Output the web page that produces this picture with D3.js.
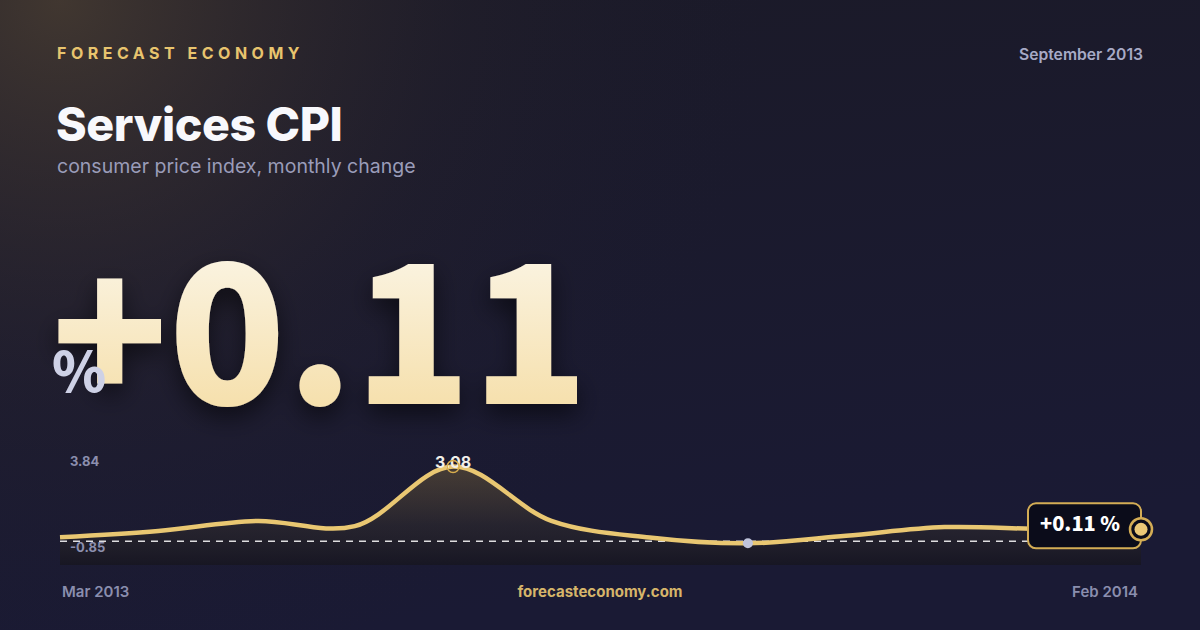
<!DOCTYPE html>
<html><head><meta charset="utf-8">
<script src="https://cdn.jsdelivr.net/npm/d3@7"></script>
<style>html,body{margin:0;padding:0;background:#161629;overflow:hidden}svg{display:block}</style>
</head><body><svg id="c" width="1200" height="630"></svg>
<script>
// ---- data ----
const months = ["Mar 2013","Apr 2013","May 2013","Jun 2013","Jul 2013","Aug 2013","Sep 2013","Oct 2013","Nov 2013","Dec 2013","Jan 2014","Feb 2014"];
const values = [0.16, 0.42, 0.83, 0.62, 3.08, 0.84, 0.15, -0.09, 0.22, 0.58, 0.50, 0.49];
const yDomain = [-0.85, 3.84];
const yTickLabels = ["3.84", "-0.85"];
const brand = "FORECAST ECONOMY";
const title = "Services CPI";
const subtitle = "consumer price index, monthly change";
const period = "September 2013";
const headline = "+0.11";
const unit = "%";
const site = "forecasteconomy.com";

// ---- layout ----
const W = 1200, H = 630;
const HEAVY = "'Noto Sans CJK SC', 'Noto Sans', sans-serif";
const svg = d3.select("#c");
const defs = svg.append("defs");

const bg = defs.append("linearGradient").attr("id","bg").attr("x1",0).attr("y1",0).attr("x2",0.3).attr("y2",1);
bg.append("stop").attr("offset","0%").attr("stop-color","#1b1a27");
bg.append("stop").attr("offset","100%").attr("stop-color","#1a1a34");
const glow = defs.append("radialGradient").attr("id","glow").attr("cx",0.05).attr("cy",0).attr("r",0.6)
  .attr("gradientTransform","scale(1,1.9)");
glow.append("stop").attr("offset","0%").attr("stop-color","#5a4a36").attr("stop-opacity",0.6);
glow.append("stop").attr("offset","55%").attr("stop-color","#3a3030").attr("stop-opacity",0.15);
glow.append("stop").attr("offset","100%").attr("stop-color","#1a1a30").attr("stop-opacity",0);

svg.append("rect").attr("width",W).attr("height",H).attr("fill","url(#bg)");
svg.append("rect").attr("width",W).attr("height",H).attr("fill","url(#glow)");

// header
svg.append("text").attr("x",57).attr("y",59).text(brand)
  .attr("font-family","Inter").attr("font-weight",700).attr("font-size",16)
  .attr("letter-spacing",4.5).attr("fill","#e8c46e");
svg.append("text").attr("x",1143).attr("y",60).attr("text-anchor","end").text(period)
  .attr("font-family","Inter").attr("font-weight",600).attr("font-size",15.7).attr("fill","#a7aac6");
svg.append("text").attr("x",56).attr("y",141).text(title)
  .attr("font-family","Inter").attr("font-weight",800).attr("font-size",46.5)
  .attr("letter-spacing",-0.4).attr("fill","#f8f8fc");
svg.append("text").attr("x",57).attr("y",173).text(subtitle)
  .attr("font-family","Inter").attr("font-weight",400).attr("font-size",19.5).attr("fill","#9a9cb9");

// big number
const ng = defs.append("linearGradient").attr("id","ng").attr("x1",0).attr("y1",0).attr("x2",0).attr("y2",1);
ng.append("stop").attr("offset","0%").attr("stop-color","#fdfdfb");
ng.append("stop").attr("offset","100%").attr("stop-color","#f4d99a");
const sh = defs.append("filter").attr("id","sh").attr("x","-10%").attr("y","-20%").attr("width","120%").attr("height","150%");
sh.append("feDropShadow").attr("dx",0).attr("dy",10).attr("stdDeviation",12).attr("flood-color","#000").attr("flood-opacity",0.55);

svg.append("text").attr("x",51).attr("y",404).text(headline)
  .attr("font-family",HEAVY).attr("font-weight",900).attr("font-size",193)
  .attr("fill","url(#ng)").attr("filter","url(#sh)");
svg.append("text").attr("x",52).attr("y",392).text(unit)
  .attr("font-family",HEAVY).attr("font-weight",900).attr("font-size",55).attr("fill","#ced1e6");

// chart
const x = d3.scalePoint().domain(months).range([60, 1141]);
const y = d3.scaleLinear().domain(yDomain).range([561.7, 448.2]);
const plotBottom = 565;
const data = months.map((m,i)=>({m, v: values[i]}));

const ag = defs.append("linearGradient").attr("id","ag").attr("gradientUnits","userSpaceOnUse")
  .attr("x1",0).attr("y1",y(d3.max(values))).attr("x2",0).attr("y2",plotBottom);
ag.append("stop").attr("offset","0%").attr("stop-color","#6a5838").attr("stop-opacity",0.55);
ag.append("stop").attr("offset","60%").attr("stop-color","#2e2a2c").attr("stop-opacity",0.6);
ag.append("stop").attr("offset","100%").attr("stop-color","#16151f").attr("stop-opacity",0.8);

const curve = d3.curveCatmullRom;
svg.append("path").datum(data)
  .attr("d", d3.area().x(d=>x(d.m)).y0(plotBottom).y1(d=>y(d.v)).curve(curve))
  .attr("fill","url(#ag)");

svg.append("line").attr("x1",x(months[0])).attr("x2",x(months[months.length-1]))
  .attr("y1",y(0)).attr("y2",y(0))
  .attr("stroke","#ffffff").attr("stroke-opacity",0.85).attr("stroke-width",1.5).attr("stroke-dasharray","7 6");

svg.append("path").datum(data)
  .attr("d", d3.line().x(d=>x(d.m)).y(d=>y(d.v)).curve(curve))
  .attr("fill","none").attr("stroke","#e9c772").attr("stroke-width",4.5).attr("stroke-linejoin","round");

// y labels
svg.append("text").attr("x",70).attr("y",y(yDomain[1])+18).text(yTickLabels[0])
  .attr("font-family","Inter").attr("font-weight",700).attr("font-size",13).attr("fill","#8c8fae");
svg.append("text").attr("x",70).attr("y",y(yDomain[0])-10).text(yTickLabels[1])
  .attr("font-family","Inter").attr("font-weight",700).attr("font-size",13).attr("fill","#8c8fae");

// peak & min
const iMax = d3.maxIndex(values), iMin = d3.minIndex(values);
svg.append("text").attr("x",x(months[iMax])).attr("y",y(values[iMax])+1).attr("text-anchor","middle")
  .text(values[iMax].toFixed(2))
  .attr("font-family","Inter").attr("font-weight",700).attr("font-size",16).attr("fill","#f1efe9");
svg.append("circle").attr("cx",x(months[iMax])).attr("cy",y(values[iMax])).attr("r",6)
  .attr("fill","none").attr("stroke","#d9ae4e").attr("stroke-width",1.5);
svg.append("circle").attr("cx",x(months[iMin])).attr("cy",y(values[iMin])).attr("r",5)
  .attr("fill","#c0c4dc");

// end marker & badge
const last = data[data.length-1];
const ex = x(last.m), ey = y(last.v);
svg.append("rect").attr("x",ex-113).attr("y",ey-26).attr("width",113).attr("height",45).attr("rx",8)
  .attr("fill","#0b0c1a").attr("stroke","#d4ad55").attr("stroke-width",2);
svg.append("text").attr("x",ex-101).attr("y",ey+2).text(headline+" "+unit)
  .attr("font-family",HEAVY).attr("font-weight",900).attr("font-size",20).attr("fill","#ffffff");
svg.append("circle").attr("cx",ex).attr("cy",ey).attr("r",11).attr("fill","#0b0c1a")
  .attr("stroke","#d4ad55").attr("stroke-width",2.5);
svg.append("circle").attr("cx",ex).attr("cy",ey).attr("r",6.5).attr("fill","#ebc877");

// footer
svg.append("text").attr("x",62).attr("y",597).text(months[0])
  .attr("font-family","Inter").attr("font-weight",600).attr("font-size",15).attr("fill","#8a8eae");
svg.append("text").attr("x",1138).attr("y",597).attr("text-anchor","end").text(months[months.length-1])
  .attr("font-family","Inter").attr("font-weight",600).attr("font-size",15).attr("fill","#8a8eae");
svg.append("text").attr("x",600).attr("y",597).attr("text-anchor","middle").text(site)
  .attr("font-family","Inter").attr("font-weight",700).attr("font-size",15).attr("fill","#d6b56a");
</script></body></html>
